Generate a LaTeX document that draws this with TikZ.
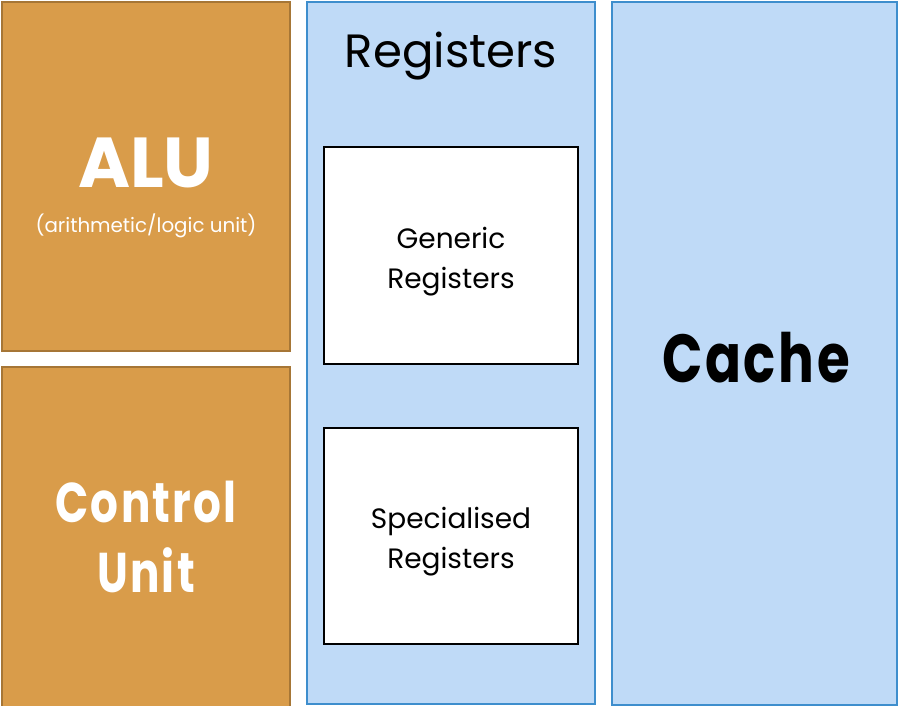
\documentclass[tikz,border=0pt]{standalone}
\usepackage{fontspec}
\setmainfont{Poppins}
\newfontfamily\condfont[FakeStretch=0.78,LetterSpace=4]{Poppins}
\definecolor{orfill}{RGB}{217,156,74}
\definecolor{ordraw}{RGB}{166,118,54}
\definecolor{blfill}{RGB}{191,218,247}
\definecolor{bldraw}{RGB}{62,142,205}
\begin{document}
\begin{tikzpicture}[x=0.75pt,y=-0.75pt,
  orbox/.style={fill=orfill,draw=ordraw,line width=1.8pt},
  blbox/.style={fill=blfill,draw=bldraw,line width=1.8pt},
  wbox/.style={fill=white,draw=black,line width=1.8pt},
  txt/.style={inner sep=0pt,anchor=base}]
\useasboundingbox (0,0) rectangle (899,706);
\fill[white] (0,0) rectangle (899,706);
\draw[orbox] (2,2) rectangle (290,351);
\draw[orbox] (2,367) rectangle (290,708);
\draw[blbox] (307,2) rectangle (595,704);
\draw[blbox] (612,2) rectangle (897,705);
\draw[wbox] (324,147) rectangle (578,364);
\draw[wbox] (324,428) rectangle (578,644);
\node[txt,white,font=\fontsize{53}{56}\selectfont\bfseries] (alu) at (146,187) {ALU};
\node[txt,white,font=\fontsize{14.9}{17}\selectfont] (alusub) at (146,232) {(arithmetic/logic unit)};
\node[txt,white,font=\condfont\fontsize{42}{46}\selectfont\bfseries] (cu1) at (146,522) {Control};
\node[txt,white,font=\condfont\fontsize{42}{46}\selectfont\bfseries] (cu2) at (146,592) {Unit};
\node[txt,black,font=\fontsize{35}{38}\selectfont] (reg) at (451,68) {Registers};
\node[txt,black,font=\fontsize{21}{24}\selectfont] (gen1) at (451,248) {Generic};
\node[txt,black,font=\fontsize{21}{24}\selectfont] (gen2) at (451,288) {Registers};
\node[txt,black,font=\fontsize{21}{24}\selectfont] (spec1) at (451,528) {Specialised};
\node[txt,black,font=\fontsize{21}{24}\selectfont] (spec2) at (451,568) {Registers};
\node[txt,black,font=\condfont\fontsize{51}{54}\selectfont\bfseries] (cache) at (756,382) {Cache};
\end{tikzpicture}
\end{document}
